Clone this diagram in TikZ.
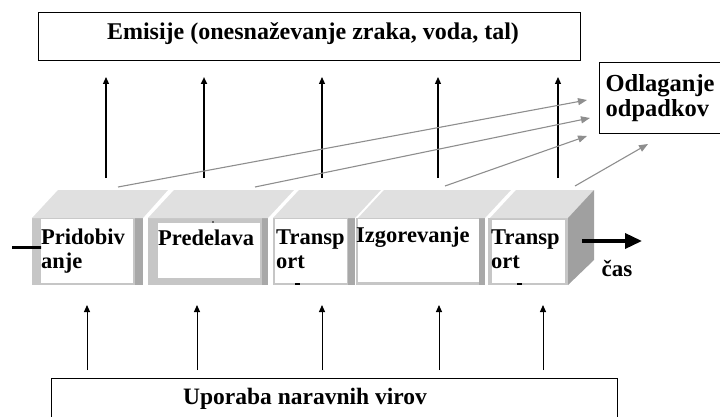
\documentclass[tikz,border=0pt]{standalone}
\usepackage{fontspec}
\setmainfont{Liberation Serif}
\usepackage{xcolor}
\usepackage{tikz}
\usetikzlibrary{positioning,arrows.meta}
\definecolor{cframe}{HTML}{C6C6C6}
\definecolor{cframedk}{HTML}{A8A8A8}
\definecolor{ctop}{HTML}{E0E0E0}
\definecolor{cside}{HTML}{A0A0A0}
\definecolor{cwaste}{HTML}{8E8E8E}

\tikzset{
  lbl/.style={font=\fontsize{22.5}{24}\selectfont\bfseries, inner sep=0pt},
  frame/.style={draw, line width=1.3pt, font=\fontsize{24}{26}\selectfont\bfseries, anchor=north west},
  face/.style={fill=white, inner sep=0pt, anchor=north west},
  emit/.style={line width=1.2pt, -{Triangle[length=7pt,width=6pt]}},
  use/.style={line width=1pt, -{Triangle[length=7pt,width=6pt]}},
  waste/.style={draw=cwaste, line width=1.1pt, -{Triangle[length=9pt,width=7pt]}, cwaste}
}

\begin{document}
\begin{tikzpicture}[x=1pt,y=-1pt]
  \useasboundingbox (0,0) rectangle (720,417);

  % boxes above and below
  \node[frame, minimum width=542, minimum height=48] (emis) at (38,12) {};
  \node[lbl, font=\fontsize{24}{26}\selectfont\bfseries] (emist) at (313,34) {Emisije (onesnaževanje zraka, voda, tal)};
  \node[frame, minimum width=140, minimum height=71, text width=130, align=left, inner sep=6pt, font=\fontsize{24.5}{25}\selectfont\bfseries] (odlag) at (599,62) {Odlaganje\\odpadkov};
  \node[frame, minimum width=566, minimum height=44] (upor) at (51,378) {};
  \node[lbl, font=\fontsize{23.5}{25}\selectfont\bfseries] (uport) at (305,399) {Uporaba naravnih virov};

  % phase blocks
  \fill[cframe] (32,218) rectangle (143,285);
  \fill[cframedk] (135,218) rectangle (143,285);
  \fill[ctop] (32,218) -- (58,190) -- (168,190) -- (143,218) -- cycle;
  \node[face, minimum width=92, minimum height=64] (pridob) at (41,219) {};
  \node[lbl, align=left, anchor=north west] (pridobt) at (41,229) {Pridobiv\\anje};

  \fill[cframe] (148,218) rectangle (268,285);
  \fill[cframedk] (262,218) rectangle (268,285);
  \fill[ctop] (148,218) -- (174,190) -- (294,190) -- (268,218) -- cycle;
  \node[face, minimum width=102, minimum height=55] (predel) at (158,223) {};
  \node[lbl, anchor=north west] (predelt) at (158,230) {Predelava};

  \fill[cframe] (273,218) rectangle (355,285);
  \fill[cframedk] (348,218) rectangle (355,285);
  \fill[ctop] (273,218) -- (299,190) -- (381,190) -- (355,218) -- cycle;
  \node[face, minimum width=72, minimum height=64] (transa) at (275,219) {};
  \node[lbl, align=left, anchor=north west] (transat) at (276,230) {Transp\\ort};

  \fill[cframe] (356,218) rectangle (485,285);
  \fill[cframedk] (479,218) rectangle (485,285);
  \fill[ctop] (358,218) -- (384,190) -- (511,190) -- (485,218) -- cycle;
  \node[face, minimum width=121, minimum height=63] (izgor) at (358,219) {};
  \node[lbl, anchor=north west] (izgort) at (356,227) {Izgorevanje};

  \fill[cframe] (488,218) rectangle (568,285);
  \fill[ctop] (490,218) -- (516,190) -- (594,190) -- (568,218) -- cycle;
  \fill[cside] (568,218) -- (594,190) -- (594,260) -- (568,285) -- cycle;
  \node[face, minimum width=73, minimum height=63] (transb) at (492,220) {};
  \node[lbl, align=left, anchor=north west] (transbt) at (491,230) {Transp\\ort};

  % small marks
  \draw[line width=1.5pt] (295,284) -- (300,284);
  \draw[line width=1.5pt] (517,284) -- (522,284);
  \fill (213,222) circle (0.8);

  % time axis
  \coordinate (tin) at (12,247);
  \draw[line width=3pt] (tin) -- (pridob.west |- tin) -- ++(-9,0);
  \coordinate (tout) at (582,241);
  \coordinate (tend) at (642,241);
  \draw[line width=3.5pt, -{Triangle[length=17pt,width=15pt]}] (tout) -- (tend);
  \node[lbl, font=\fontsize{23}{25}\selectfont\bfseries] (cas) at (617,269) {čas};

  % emissions
  \draw[emit] (106,178) coordinate (e1) -- (e1 |- 0,77);
  \draw[emit, line width=2.6pt] (204,178) coordinate (e2) -- (e2 |- 0,77);
  \draw[emit] (322,178) coordinate (e3) -- (e3 |- 0,77);
  \draw[emit] (438,178) coordinate (e4) -- (e4 |- 0,77);
  \draw[emit] (558,178) coordinate (e5) -- (e5 |- 0,77);

  % waste
  \draw[waste] (118,187) -- (587,100);
  \draw[waste] (255,187) -- (590,118);
  \draw[waste] (445,186) -- (587,136);
  \draw[waste] (575,186) -- (648,144);

  % resources
  \draw[use] (87,370) coordinate (u1) -- (u1 |- 0,305);
  \draw[use] (197,370) coordinate (u2) -- (u2 |- 0,305);
  \draw[use] (322,370) coordinate (u3) -- (u3 |- 0,305);
  \draw[use] (439,370) coordinate (u4) -- (u4 |- 0,305);
  \draw[use] (543,370) coordinate (u5) -- (u5 |- 0,305);
\end{tikzpicture}
\end{document}
